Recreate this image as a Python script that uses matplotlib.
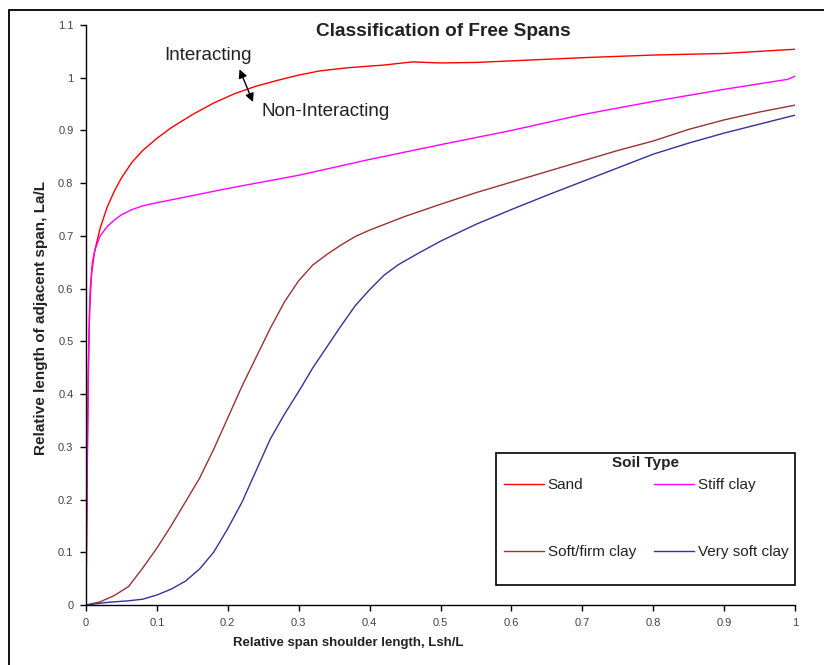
import numpy as np
import matplotlib
matplotlib.use('Agg')
import matplotlib.pyplot as plt
from matplotlib.patches import Rectangle

#==============================================================================#
#                               Data
#==============================================================================#
sand_x = [0.0, 0.001, 0.003, 0.005, 0.008, 0.012, 0.02, 0.03, 0.04, 0.05, 0.065,
          0.08, 0.10, 0.12, 0.15, 0.18, 0.21, 0.24, 0.27, 0.30, 0.33, 0.37,
          0.42, 0.46, 0.50, 0.55, 0.60, 0.70, 0.80, 0.90, 1.0]
sand_y = [0.0, 0.15, 0.42, 0.56, 0.63, 0.67, 0.715, 0.755, 0.785, 0.81, 0.84,
          0.862, 0.885, 0.905, 0.93, 0.952, 0.97, 0.984, 0.995, 1.005, 1.013, 1.019,
          1.024, 1.03, 1.028, 1.029, 1.032, 1.038, 1.043, 1.046, 1.054]

stiff_x = [0.0, 0.002, 0.004, 0.006, 0.009, 0.013, 0.02, 0.03, 0.04, 0.05, 0.065,
           0.08, 0.10, 0.13, 0.20, 0.30, 0.40, 0.50, 0.60, 0.70, 0.80, 0.90, 0.99, 1.0]
stiff_y = [0.0, 0.30, 0.50, 0.60, 0.65, 0.675, 0.70, 0.718, 0.73, 0.74, 0.75,
           0.757, 0.763, 0.771, 0.79, 0.815, 0.845, 0.873, 0.90, 0.93, 0.955, 0.978, 0.997, 1.003]

soft_x = [0.0, 0.02, 0.04, 0.06, 0.08, 0.10, 0.12, 0.14, 0.16, 0.18, 0.20, 0.22,
          0.24, 0.26, 0.28, 0.30, 0.32, 0.34, 0.36, 0.38, 0.40, 0.45, 0.50, 0.55,
          0.60, 0.65, 0.70, 0.75, 0.80, 0.85, 0.90, 0.95, 1.0]
soft_y = [0.0, 0.006, 0.018, 0.035, 0.07, 0.108, 0.15, 0.195, 0.24, 0.295, 0.355, 0.415,
          0.47, 0.525, 0.575, 0.615, 0.645, 0.665, 0.683, 0.699, 0.711, 0.737, 0.76, 0.782,
          0.802, 0.822, 0.842, 0.862, 0.88, 0.902, 0.92, 0.935, 0.948]

vsoft_x = [0.0, 0.03, 0.06, 0.08, 0.10, 0.12, 0.14, 0.16, 0.18, 0.20, 0.22, 0.24,
           0.26, 0.28, 0.30, 0.32, 0.34, 0.36, 0.38, 0.40, 0.42, 0.44, 0.47, 0.50,
           0.55, 0.60, 0.65, 0.70, 0.75, 0.80, 0.85, 0.90, 0.95, 1.0]
vsoft_y = [0.0, 0.005, 0.008, 0.011, 0.019, 0.03, 0.045, 0.068, 0.10, 0.145, 0.195, 0.255,
           0.315, 0.362, 0.405, 0.45, 0.49, 0.53, 0.568, 0.598, 0.625, 0.645, 0.668, 0.69,
           0.722, 0.75, 0.777, 0.803, 0.829, 0.855, 0.876, 0.895, 0.912, 0.929]

labels = ['Sand', 'Stiff clay', 'Soft/firm clay', 'Very soft clay']
colors = ['#ff0000', '#ff00ff', '#993333', '#333399']

xticks = [0, 0.1, 0.2, 0.3, 0.4, 0.5, 0.6, 0.7, 0.8, 0.9, 1]
xticklabels = ['0', '0.1', '0.2', '0.3', '0.4', '0.5', '0.6', '0.7', '0.8', '0.9', '1']
yticks = [0, 0.1, 0.2, 0.3, 0.4, 0.5, 0.6, 0.7, 0.8, 0.9, 1.0, 1.1]
yticklabels = ['0', '0.1', '0.2', '0.3', '0.4', '0.5', '0.6', '0.7', '0.8', '0.9', '1', '1.1']

#==============================================================================#
#                               Figure
#==============================================================================#
plt.rcParams['font.family'] = ['Liberation Sans', 'DejaVu Sans']

fig = plt.figure(figsize=(8.24, 6.65), dpi=100)
ax = fig.add_axes([86/824, 1-605/665, 709/824, 580/665])

# outer frame (runs off the right and bottom of the image)
fig.patches.append(Rectangle((9/824, -0.05), 1.0, 1-10/665+0.05, transform=fig.transFigure,
                             fill=False, edgecolor='black', linewidth=1.3))

series = [(sand_x, sand_y), (stiff_x, stiff_y), (soft_x, soft_y), (vsoft_x, vsoft_y)]
handles = []
for (xs, ys), lab, col in zip(series, labels, colors):
    h, = ax.plot(xs, ys, color=col, lw=1.0, label=lab, solid_joinstyle='round')
    handles.append(h)

ax.set_xlim(0, 1)
ax.set_ylim(0, 1.1)
ax.set_xticks(xticks)
ax.set_xticklabels(xticklabels)
ax.set_yticks(yticks)
ax.set_yticklabels(yticklabels)
ax.tick_params(direction='out', length=4, width=1, labelsize=8, labelcolor='#444444', pad=5)
for s in ['top', 'right']:
    ax.spines[s].set_visible(False)
for s in ['left', 'bottom']:
    ax.spines[s].set_linewidth(1.0)

# title and axis labels
fig.text(443/824, 1-32/665, 'Classification of Free Spans', ha='center', va='center',
         fontsize=13.7, fontweight='bold', color='#222222')
fig.text(41/824, 1-318/665, 'Relative length of adjacent span, La/L', rotation=90,
         ha='center', va='center', fontsize=11, fontweight='bold', color='#222222')
fig.text(348/824, 1-643/665, 'Relative span shoulder length, Lsh/L', ha='center',
         va='center', fontsize=9.5, fontweight='bold', color='#222222')

# annotation
ax.annotate('', xy=(0.2165, 1.016), xytext=(0.2355, 0.954),
            arrowprops=dict(arrowstyle='<|-|>,head_length=0.5,head_width=0.25',
                            color='black', lw=1.0, shrinkA=0, shrinkB=0))
ax.text(0.1725, 1.043, 'Interacting', ha='center', va='center', fontsize=13.5, color='#222222')
ax.text(0.248, 0.935, 'Non-Interacting', ha='left', va='center', fontsize=13.5, color='#222222')

# legend box
bx0, by0 = (496-86)/709, (605-585)/580
bw, bh = (795-496)/709, (585-453)/580
ax.add_patch(Rectangle((bx0, by0), bw, bh, transform=ax.transAxes, facecolor='white',
                       edgecolor='black', lw=1.2, clip_on=False, zorder=5))
ax.text(bx0+bw/2, (605-463)/580, 'Soil Type', transform=ax.transAxes, ha='center',
        va='center', fontsize=11, fontweight='bold', color='#222222', zorder=7)
# column-wise fill: Sand / Soft-firm in column 1, Stiff / Very soft in column 2
order = [0, 2, 1, 3]
leg = ax.legend(handles=[handles[i] for i in order], ncol=2, frameon=False,
                loc='upper left', bbox_to_anchor=((504-86)/709, (605-478)/580),
                fontsize=11, labelspacing=3.5, handlelength=2.6,
                handletextpad=0.27, columnspacing=1.2, borderpad=0.0, borderaxespad=0.0)
leg.set_zorder(6)
for t in leg.get_texts():
    t.set_color('#222222')

fig.savefig('out.png', dpi=100)
